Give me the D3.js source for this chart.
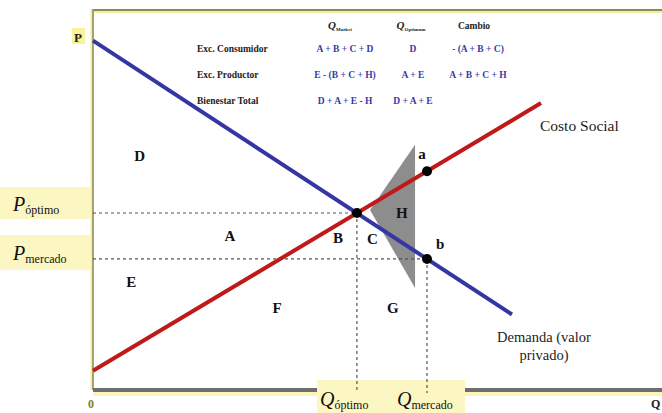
<!DOCTYPE html>
<html>
<head>
<meta charset="utf-8">
<script src="https://cdn.jsdelivr.net/npm/d3@7"></script>
<style>
  body { margin: 0; background: #fff; }
  svg { display: block; font-family: "Liberation Serif", "DejaVu Serif", serif; }
</style>
</head>
<body>
<div id="chart"></div>
<script>
// Externalidad negativa: demanda (valor privado) vs costo social

// curves (q, p) in chart units 0-100
const demandPts = [{q: 0, p: 92}, {q: 73.5, p: 20.5}];
const socialCostPts = [{q: 0, p: 5.8}, {q: 78.6, p: 75.7}];

const qOpt = 46.3, pOpt = 47.0;
const qMkt = 58.6, pMkt = 35.0, pSocialMkt = 57.9;

// gray triangle (area H)
const areaH = [{q: 56.5, p: 64.8}, {q: 48.6, p: 47.8}, {q: 56.5, p: 27.4}];

// area letters
const areaLabels = [
  {t: "D", q: 8.2, p: 61.6}, {t: "A", q: 24, p: 40.5}, {t: "B", q: 43, p: 40},
  {t: "C", q: 49, p: 39.7}, {t: "H", q: 54.2, p: 46.5}, {t: "E", q: 6.7, p: 28.7},
  {t: "F", q: 32.3, p: 21.7}, {t: "G", q: 52.6, p: 21.7},
  {t: "a", q: 57.7, p: 61.9}, {t: "b", q: 60.9, p: 38.6}
];

// welfare table
const rowNames = ["Exc. Consumidor", "Exc. Productor", "Bienestar Total"];
const colMarket = ["A + B + C + D", "E - (B + C + H)", "D + A + E - H"];
const colOptimum = ["D", "A + E", "D + A + E"];
const colChange = ["- (A + B + C)", "A + B + C + H", ""];

const width = 662, height = 413;
const svg = d3.select("#chart").append("svg")
  .attr("width", width).attr("height", height);

const x = d3.scaleLinear().domain([0, 100]).range([93, 663]);
const y = d3.scaleLinear().domain([0, 100]).range([393, 10]);

// frame
svg.append("line").attr("x1", 93).attr("x2", 662).attr("y1", 12).attr("y2", 12)
  .attr("stroke", "#f3eea0").attr("stroke-width", 2);
svg.append("line").attr("x1", 93).attr("x2", 662).attr("y1", 10).attr("y2", 10)
  .attr("stroke", "#8c8a55").attr("stroke-width", 2);
svg.append("line").attr("x1", 92).attr("x2", 92).attr("y1", 9).attr("y2", 390)
  .attr("stroke", "#f3eea0").attr("stroke-width", 3);
svg.append("line").attr("x1", 93).attr("x2", 93).attr("y1", 9).attr("y2", 390)
  .attr("stroke", "#8c8a55").attr("stroke-width", 1.5);
svg.append("rect").attr("x", 93).attr("y", 392).attr("width", 570).attr("height", 4)
  .attr("fill", "#fbf6b8");
svg.append("rect").attr("x", 93).attr("y", 388).attr("width", 570).attr("height", 4)
  .attr("fill", "#6e6e6e");

// yellow label boxes
const boxFill = "#fcf6c2";
svg.append("rect").attr("x", 0).attr("y", 187).attr("width", 91).attr("height", 32).attr("fill", boxFill);
svg.append("rect").attr("x", 0).attr("y", 235).attr("width", 91).attr("height", 35).attr("fill", boxFill);
svg.append("rect").attr("x", 317).attr("y", 380).attr("width", 148).attr("height", 33).attr("fill", boxFill);

// area H
svg.append("path")
  .attr("d", d3.line().x(d => x(d.q)).y(d => y(d.p))(areaH) + "Z")
  .attr("fill", "#8d8d8d");

// dashed guides
const dash = "3,3";
const guides = [
  [0, pOpt, qOpt, pOpt], [0, pMkt, qMkt, pMkt],
  [qOpt, pOpt, qOpt, 0], [qMkt, pMkt, qMkt, 0]
];
svg.selectAll("line.guide").data(guides).enter().append("line")
  .attr("class", "guide")
  .attr("x1", d => x(d[0])).attr("y1", d => y(d[1]))
  .attr("x2", d => x(d[2])).attr("y2", d => y(d[3]))
  .attr("stroke", "#555").attr("stroke-width", 1.2).attr("stroke-dasharray", dash);

// curves
const line = d3.line().x(d => x(d.q)).y(d => y(d.p));
svg.append("path").attr("d", line(socialCostPts))
  .attr("stroke", "#bf1a1a").attr("stroke-width", 4).attr("fill", "none");
svg.append("path").attr("d", line(demandPts))
  .attr("stroke", "#3535a3").attr("stroke-width", 4).attr("fill", "none");

// points
svg.selectAll("circle").data([[qOpt, pOpt], [qMkt, pSocialMkt], [qMkt, pMkt]])
  .enter().append("circle")
  .attr("cx", d => x(d[0])).attr("cy", d => y(d[1])).attr("r", 5).attr("fill", "#000");

// area letters
svg.selectAll("text.area").data(areaLabels).enter().append("text")
  .attr("class", "area")
  .attr("x", d => x(d.q)).attr("y", d => y(d.p))
  .attr("text-anchor", "middle").attr("dominant-baseline", "middle")
  .attr("font-weight", "bold").attr("font-size", 15).attr("fill", "#111")
  .text(d => d.t);

// curve labels
svg.append("text").attr("x", 540).attr("y", 131).attr("font-size", 15.5).attr("fill", "#222")
  .text("Costo Social");
svg.append("text").attr("x", 544).attr("y", 342).attr("font-size", 14.5).attr("fill", "#222")
  .attr("text-anchor", "middle").text("Demanda (valor");
svg.append("text").attr("x", 544).attr("y", 360).attr("font-size", 14.5).attr("fill", "#222")
  .attr("text-anchor", "middle").text("privado)");

// axis labels
svg.append("rect").attr("x", 72).attr("y", 28).attr("width", 13).attr("height", 16).attr("fill", "#fbf39a");
svg.append("text").attr("x", 78).attr("y", 42).attr("text-anchor", "middle")
  .attr("font-weight", "bold").attr("font-size", 13).attr("fill", "#222").text("P");
svg.append("text").attr("x", 91).attr("y", 408).attr("text-anchor", "middle")
  .attr("font-weight", "bold").attr("font-size", 12).attr("fill", "#8c7a20").text("0");
svg.append("text").attr("x", 651).attr("y", 408)
  .attr("font-weight", "bold").attr("font-size", 12).attr("fill", "#222").text("Q");

// P labels
function subLabel(xp, yp, main, sub, size) {
  const t = svg.append("text").attr("x", xp).attr("y", yp).attr("fill", "#111");
  t.append("tspan").attr("font-style", "italic").attr("font-size", size).text(main);
  t.append("tspan").attr("font-size", size * 0.6).attr("dy", 3).text(sub);
}
subLabel(13, 211, "P", "óptimo", 20);
subLabel(13, 260, "P", "mercado", 20);
subLabel(320, 406, "Q", "óptimo", 20);
subLabel(397, 406, "Q", "mercado", 20);

// welfare table
const rowY = [52, 78, 104];
const tbl = svg.append("g").attr("font-weight", "bold").attr("font-size", 9.5);
tbl.selectAll("text.row").data(rowNames).enter().append("text")
  .attr("x", 197).attr("y", (d, i) => rowY[i]).attr("fill", "#222").text(d => d);
[[colMarket, 345], [colOptimum, 413], [colChange, 478]].forEach(([col, cx]) => {
  tbl.selectAll(null).data(col).enter().append("text")
    .attr("x", cx).attr("y", (d, i) => rowY[i]).attr("text-anchor", "middle")
    .attr("fill", "#3a3aa6").text(d => d);
});
function head(cx, sub) {
  const t = tbl.append("text").attr("x", cx).attr("y", 29).attr("text-anchor", "middle").attr("fill", "#222");
  t.append("tspan").attr("font-style", "italic").attr("font-size", 11).text("Q");
  t.append("tspan").attr("font-size", 5).attr("dy", 2).text(sub);
}
head(340, "Market");
head(411, "Optimum");
tbl.append("text").attr("x", 474).attr("y", 29).attr("text-anchor", "middle").attr("fill", "#222").text("Cambio");
</script>
</body>
</html>
